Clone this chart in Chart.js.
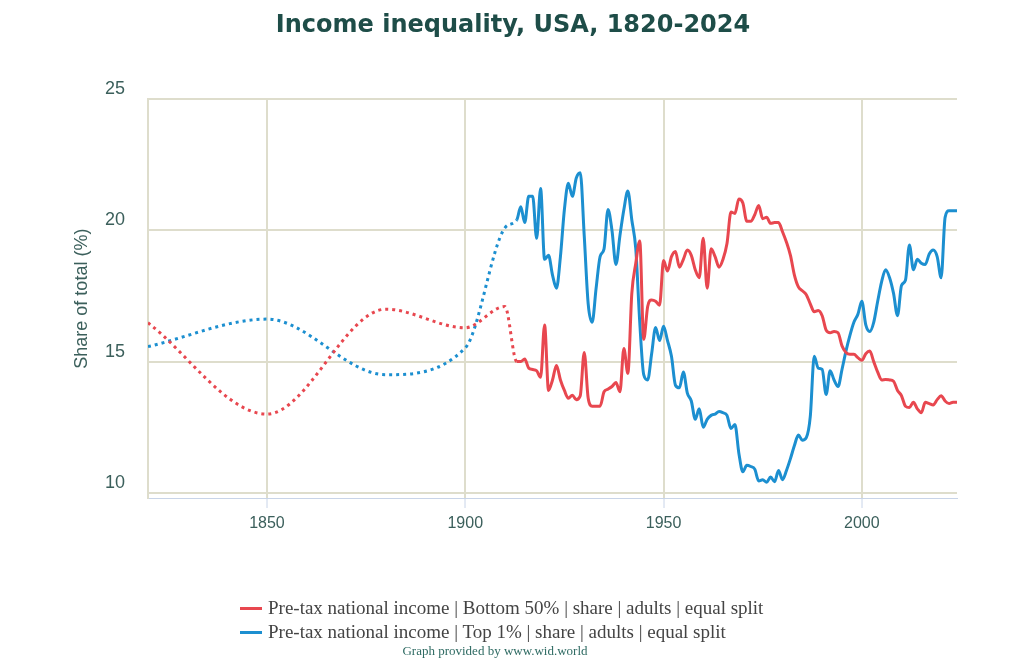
<!DOCTYPE html>
<html>
<head>
<meta charset="utf-8"/>
<style>
  html,body{margin:0;padding:0;background:#fff;}
  #wrap{position:relative;width:1024px;height:665px;}
  #legend{position:absolute;left:240px;top:596px;font-family:"Liberation Serif","Times New Roman",serif;font-size:19px;color:#444;line-height:24px;white-space:nowrap;}
  #legend .sw{display:inline-block;width:22px;height:3px;vertical-align:middle;margin-right:6px;position:relative;top:-1px;}
  #credit{position:absolute;left:0;width:990px;top:643px;text-align:center;font-family:"Liberation Serif",serif;font-size:13px;color:#2f6b63;}
</style>
</head>
<body>
<div id="wrap">
  <canvas id="c"></canvas>
  <div id="legend"></div>
  <div id="credit">Graph provided by www.wid.world</div>
</div>
<script src="https://cdn.jsdelivr.net/npm/chart.js@4.4.0/dist/chart.umd.min.js"></script>
<script>
// sparse benchmark years before annual series starts
const earlyYears = [1820, 1850, 1880, 1900, 1910];
const firstAnnual = 1913, lastAnnual = 2024;
const dottedUntil = 1913;

const years = earlyYears.slice();
for (let y = firstAnnual; y <= lastAnnual; y++) years.push(y);

const seriesLabels = [
  "Pre-tax national income | Bottom 50% | share | adults | equal split",
  "Pre-tax national income | Top 1% | share | adults | equal split"
];
const seriesColors = ["#e8474f", "#1c8fd0"];

// Bottom 50% share
const bottom50 = [
  16.48, 13.0, 17.0, 16.29, 17.1,
  15.0, 15.0, 15.1, 14.75, 14.7, 14.65, 14.4, 16.4, 13.9, 14.3,      // 1913-1922
  14.85, 14.3, 13.9, 13.6, 13.72, 13.55, 13.7, 15.35, 13.6, 13.3,    // 1923-1932
  13.3, 13.3, 13.85, 13.95, 14.05, 14.2, 13.85, 15.5, 14.55, 17.6,   // 1933-1942
  18.75, 19.6, 15.85, 17.1, 17.35, 17.3, 17.15, 18.85, 18.45, 19.0,  // 1943-1952
  19.2, 18.6, 18.9, 19.25, 19.05, 18.5, 18.2, 19.7, 17.8, 19.3,      // 1953-1962
  19.0, 18.6, 18.9, 19.5, 20.7, 20.65, 21.2, 21.05, 20.35, 20.35,    // 1963-1972
  20.6, 20.95, 20.45, 20.5, 20.27, 20.3, 20.3, 19.95, 19.55, 19.05,  // 1973-1982
  18.3, 17.85, 17.7, 17.55, 17.2, 16.9, 16.95, 16.75, 16.2, 16.1,    // 1983-1992
  16.15, 16.1, 15.6, 15.35, 15.28, 15.28, 15.15, 15.05, 15.3, 15.4,  // 1993-2002
  15.0, 14.6, 14.3, 14.32, 14.3, 14.25, 13.9, 13.7, 13.3, 13.25,     // 2003-2012
  13.45, 13.2, 13.05, 13.45, 13.4, 13.35, 13.55, 13.7, 13.5, 13.4,   // 2013-2022
  13.45, 13.45                                                       // 2023-2024
];

// Top 1% share
const top1 = [
  15.57, 16.62, 14.5, 15.52, 20.1,
  20.4, 20.9, 20.3, 21.3, 21.3, 19.7, 21.6, 18.9, 19.05, 18.3,       // 1913-1922
  17.8, 19.0, 20.8, 21.8, 21.3, 22.0, 22.2, 19.8, 17.2, 16.5,        // 1923-1932
  17.8, 19.0, 19.3, 20.8, 20.0, 18.7, 19.8, 20.8, 21.5, 20.4,        // 1933-1942
  19.3, 16.5, 14.5, 14.3, 15.3, 16.3, 15.8, 16.35, 15.8, 15.2,       // 1943-1952
  14.1, 14.0, 14.6, 13.8, 13.5, 12.8, 13.2, 12.5, 12.8, 12.95,       // 1953-1962
  13.0, 13.1, 13.05, 12.95, 12.45, 12.6, 11.5, 10.8, 11.05, 11.0,    // 1963-1972
  10.9, 10.45, 10.5, 10.4, 10.6, 10.42, 10.85, 10.5, 10.85, 11.3,    // 1973-1982
  11.8, 12.2, 12.0, 12.1, 12.9, 15.2, 14.75, 14.7, 13.75, 14.65,     // 1983-1992
  14.3, 14.05, 14.7, 15.4, 16.0, 16.5, 16.8, 17.3, 16.4, 16.15,      // 1993-2002
  16.5, 17.3, 18.05, 18.5, 18.2, 17.6, 16.75, 17.9, 18.1, 19.45,     // 2003-2012
  18.5, 18.9, 18.75, 18.7, 19.1, 19.25, 19.0, 18.2, 20.5, 20.75,     // 2013-2022
  20.75, 20.75                                                       // 2023-2024
];

const xTicks = [1850, 1900, 1950, 2000];
const yTicks = [10, 15, 20, 25];

const GRID = "#deddcc";
const AXIS = "#c8d4e8";
const TXT  = "#3b5f5b";

const toPoints = vals => vals.map((v, i) => ({ x: years[i], y: v }));

const makeSet = (i, vals) => ({
  label: seriesLabels[i],
  data: toPoints(vals),
  borderColor: seriesColors[i],
  backgroundColor: seriesColors[i],
  borderWidth: 3,
  pointRadius: 0,
  cubicInterpolationMode: "monotone",
  segment: { borderDash: ctx => ctx.p1.parsed.x <= dottedUntil ? [3, 4] : undefined }
});

new Chart(document.getElementById("c"), {
  type: "line",
  data: { datasets: [makeSet(0, bottom50), makeSet(1, top1)] },
  options: {
    responsive: true, maintainAspectRatio: false, animation: false,
    layout: { padding: { left: 69, right: 67, top: 0, bottom: 127 } },
    plugins: {
      legend: { display: false },
      tooltip: { enabled: false },
      title: {
        display: true, text: "Income inequality, USA, 1820-2024", color: "#1e4d48",
        font: { family: "DejaVu Sans", size: 24, weight: "bold" },
        padding: { top: 11, bottom: 59.5 }
      }
    },
    scales: {
      x: {
        type: "linear", min: 1820, max: 2024,
        afterBuildTicks: sc => { sc.ticks = xTicks.map(v => ({ value: v })); },
        afterFit: sc => { sc.height = 40; },
        grid: { color: GRID, lineWidth: 2, tickColor: AXIS, tickLength: 10, tickWidth: 1 },
        border: { color: AXIS, width: 1 },
        ticks: { color: TXT, padding: 6, font: { family: "Liberation Sans", size: 16 }, callback: v => String(v) }
      },
      y: {
        min: 9.8, max: 25,
        afterBuildTicks: sc => { sc.ticks = yTicks.map(v => ({ value: v })); },
        afterFit: sc => { sc.width = 79; },
        grid: { color: GRID, lineWidth: 2, drawTicks: false },
        border: { color: GRID, width: 2 },
        ticks: { color: TXT, padding: 23, labelOffset: -10, font: { family: "Liberation Sans", size: 18 } },
        title: { display: true, text: "Share of total (%)", color: TXT, padding: { top: 2, bottom: 4 },
                 font: { family: "Liberation Sans", size: 18 } }
      }
    }
  }
});

document.getElementById("legend").innerHTML = seriesLabels
  .map((t, i) => `<div><span class="sw" style="background:${seriesColors[i]}"></span>${t}</div>`)
  .join("");
</script>
</body>
</html>
